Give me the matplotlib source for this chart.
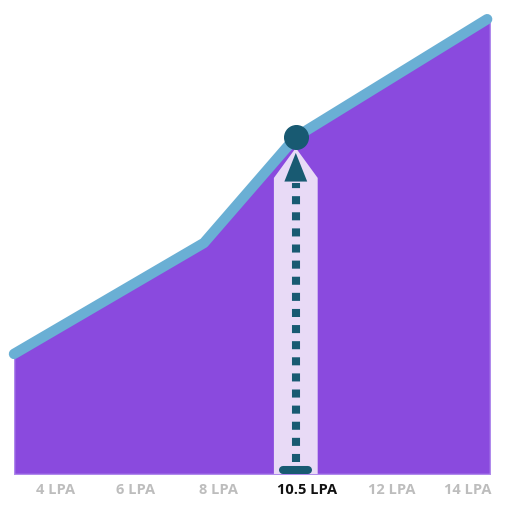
import numpy as np
import matplotlib.pyplot as plt
from matplotlib.patches import Polygon

# data (x on a 0-100 track, y on 0-100 scale)
line_x = [0, 39.9, 59.2, 99.4]
line_y = [26.4, 50.8, 74.1, 100]

tick_labels = ["4 LPA", "6 LPA", "8 LPA", "10.5 LPA", "12 LPA", "14 LPA"]
tick_pos = [8.8, 25.6, 42.9, 61.6, 79.4, 95.4]
highlight_idx = 3
focus_x = line_x[2]
focus_y = line_y[2]

purple = "#8A4ADE"
blue = "#6AAFD4"
teal = "#185A72"
lav = "#E8DAF6"

fig = plt.figure(figsize=(5.12, 5.12), dpi=100)
ax = fig.add_axes([14/512, 38/512, 476/512, 473/512])
ax.set_xlim(0, 100)
ax.set_ylim(0, 104)
ax.axis("off")

xs = line_x[:]
xs[-1] = 100
ax.fill_between(xs, line_y, 0, color=purple, edgecolor="#B08AEC", linewidth=1.2, zorder=1)
ax.plot(line_x, line_y, color=blue, lw=7.5, solid_capstyle="round",
        solid_joinstyle="round", zorder=3, clip_on=False)

# highlight column
hw = 4.6
shoulder = 65.1
apex = 71.7
poly = Polygon([(focus_x - hw, 0), (focus_x + hw, 0), (focus_x + hw, shoulder),
                (focus_x, apex), (focus_x - hw, shoulder)],
               closed=True, facecolor=lav, edgecolor="none", zorder=2)
ax.add_patch(poly)

# dashed arrow
ax.plot([focus_x, focus_x], [2.6, 64.0], color=teal, lw=5.8, linestyle=(0, (1, 1)),
        dash_capstyle="butt", zorder=4)
ax.add_patch(Polygon([(focus_x - 2.4, 64.3), (focus_x + 2.4, 64.3), (focus_x, 70.6)],
                     closed=True, facecolor=teal, edgecolor="none", zorder=4))
ax.plot([focus_x - 2.6, focus_x + 2.6], [0.9, 0.9], color=teal, lw=5.8,
        solid_capstyle="round", zorder=4)
ax.plot([focus_x], [focus_y], "o", color=teal, markersize=17, zorder=5, clip_on=False)

for i, (lab, p) in enumerate(zip(tick_labels, tick_pos)):
    hl = i == highlight_idx
    ax.text(p, -0.033, lab, transform=ax.get_xaxis_transform(), ha="center", va="center",
            fontsize=10.5, fontweight="bold", family=["Open Sans", "DejaVu Sans"],
            color="#111111" if hl else "#BDBDBD")

fig.savefig("out.png", dpi=100)
